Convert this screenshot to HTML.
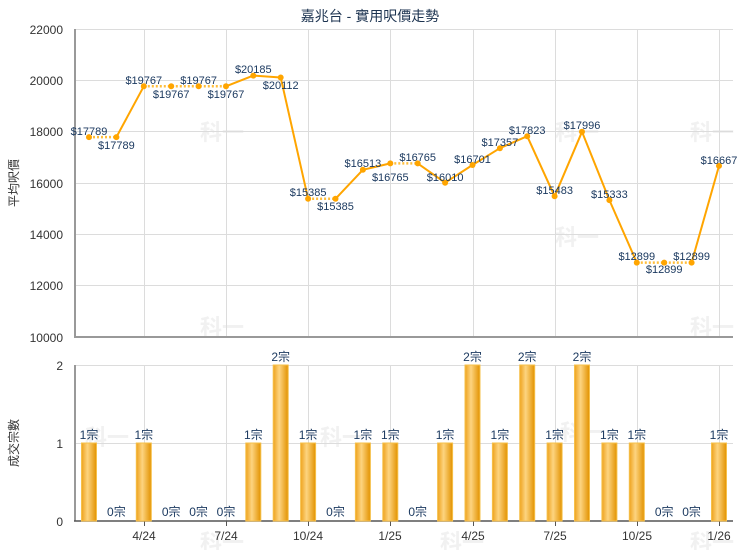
<!DOCTYPE html>
<html><head><meta charset="utf-8"><style>
body{margin:0;background:#fff;}
svg{display:block;font-family:"Liberation Sans","Noto Sans CJK TC",sans-serif;}
</style></head><body>
<svg width="740" height="550" viewBox="0 0 740 550">
<defs>
<linearGradient id="bg" x1="0" x2="1" y1="0" y2="0">
<stop offset="0" stop-color="#eea21c"/><stop offset="0.4" stop-color="#fdd480"/><stop offset="1" stop-color="#e29200"/>
</linearGradient>
</defs>
<text x="370" y="21" text-anchor="middle" font-size="14" fill="#1c3350">嘉兆台 - 實用呎價走勢</text>
<!-- watermarks -->
<g font-size="22" font-weight="bold" fill="#f1f1f1">
<text x="200" y="140">科一</text><text x="555" y="140">科一</text><text x="690" y="140">科一</text>
<text x="200" y="335">科一</text><text x="555" y="245">科一</text><text x="690" y="335">科一</text>
<text x="85" y="445">科一</text><text x="320" y="445">科一</text><text x="560" y="440">科一</text>
<text x="200" y="550">科一</text><text x="440" y="550">科一</text><text x="690" y="550">科一</text>
</g>
<!-- grids top -->
<g stroke="#dcdcdc" stroke-width="1">
<line x1="75" x2="733" y1="29.5" y2="29.5"/><line x1="75" x2="733" y1="80.5" y2="80.5"/>
<line x1="75" x2="733" y1="131.5" y2="131.5"/><line x1="75" x2="733" y1="183.5" y2="183.5"/>
<line x1="75" x2="733" y1="234.5" y2="234.5"/><line x1="75" x2="733" y1="285.5" y2="285.5"/>
<line x1="75" x2="733" y1="365.5" y2="365.5"/><line x1="75" x2="733" y1="443.5" y2="443.5"/>
<g>
<line x1="144.5" x2="144.5" y1="29" y2="337"/><line x1="226.5" x2="226.5" y1="29" y2="337"/>
<line x1="308.5" x2="308.5" y1="29" y2="337"/><line x1="390.5" x2="390.5" y1="29" y2="337"/>
<line x1="473.5" x2="473.5" y1="29" y2="337"/><line x1="555.5" x2="555.5" y1="29" y2="337"/>
<line x1="637.5" x2="637.5" y1="29" y2="337"/><line x1="719.5" x2="719.5" y1="29" y2="337"/>
<line x1="144.5" x2="144.5" y1="365" y2="521"/><line x1="226.5" x2="226.5" y1="365" y2="521"/>
<line x1="308.5" x2="308.5" y1="365" y2="521"/><line x1="390.5" x2="390.5" y1="365" y2="521"/>
<line x1="473.5" x2="473.5" y1="365" y2="521"/><line x1="555.5" x2="555.5" y1="365" y2="521"/>
<line x1="637.5" x2="637.5" y1="365" y2="521"/><line x1="719.5" x2="719.5" y1="365" y2="521"/>
</g></g>
<!-- axes -->
<g stroke="#999" stroke-width="2">
<line x1="75" x2="75" y1="29" y2="338"/><line x1="74" x2="733" y1="337" y2="337"/>
<line x1="75" x2="75" y1="365" y2="521"/>
</g>
<line x1="74" x2="733" y1="521" y2="521" stroke="#555" stroke-width="1.5"/>
<g stroke="#555"><line x1="144.5" x2="144.5" y1="521" y2="526"/><line x1="226.5" x2="226.5" y1="521" y2="526"/><line x1="308.5" x2="308.5" y1="521" y2="526"/><line x1="390.5" x2="390.5" y1="521" y2="526"/><line x1="473.5" x2="473.5" y1="521" y2="526"/><line x1="555.5" x2="555.5" y1="521" y2="526"/><line x1="637.5" x2="637.5" y1="521" y2="526"/><line x1="719.5" x2="719.5" y1="521" y2="526"/></g>
<!-- y labels -->
<g font-size="12" fill="#333" text-anchor="end">
<text x="63" y="34">22000</text><text x="63" y="85">20000</text><text x="63" y="136">18000</text>
<text x="63" y="188">16000</text><text x="63" y="239">14000</text><text x="63" y="290">12000</text>
<text x="63" y="342">10000</text>
<text x="63" y="370">2</text><text x="63" y="448">1</text><text x="63" y="526">0</text>
</g>
<text transform="translate(18,183) rotate(-90)" text-anchor="middle" font-size="12" fill="#333">平均呎價</text>
<text transform="translate(18,443) rotate(-90)" text-anchor="middle" font-size="12" fill="#333">成交宗數</text>
<g font-size="12" fill="#333" text-anchor="middle">
<text x="144" y="540">4/24</text><text x="226" y="540">7/24</text><text x="308" y="540">10/24</text><text x="390" y="540">1/25</text>
<text x="473" y="540">4/25</text><text x="555" y="540">7/25</text><text x="637" y="540">10/25</text><text x="719" y="540">1/26</text>
</g>
<!-- bars -->
<g fill="url(#bg)" stroke="#f6c04a" stroke-width="1">
<rect x="81.5" y="443" width="15" height="78"/>
<rect x="136.3" y="443" width="15" height="78"/>
<rect x="245.8" y="443" width="15" height="78"/>
<rect x="273.2" y="365" width="15" height="156"/>
<rect x="300.6" y="443" width="15" height="78"/>
<rect x="355.4" y="443" width="15" height="78"/>
<rect x="382.8" y="443" width="15" height="78"/>
<rect x="437.6" y="443" width="15" height="78"/>
<rect x="465" y="365" width="15" height="156"/>
<rect x="492.4" y="443" width="15" height="78"/>
<rect x="519.7" y="365" width="15" height="156"/>
<rect x="547.1" y="443" width="15" height="78"/>
<rect x="574.5" y="365" width="15" height="156"/>
<rect x="601.9" y="443" width="15" height="78"/>
<rect x="629.3" y="443" width="15" height="78"/>
<rect x="711.5" y="443" width="15" height="78"/>
</g>
<g font-size="12" fill="#1c3a60" text-anchor="middle">
<text x="89" y="439">1宗</text><text x="116.4" y="516">0宗</text><text x="143.8" y="439">1宗</text>
<text x="171.2" y="516">0宗</text><text x="198.6" y="516">0宗</text><text x="226" y="516">0宗</text>
<text x="253.3" y="439">1宗</text><text x="280.7" y="361">2宗</text><text x="308.1" y="439">1宗</text>
<text x="335.5" y="516">0宗</text><text x="362.9" y="439">1宗</text><text x="390.3" y="439">1宗</text>
<text x="417.7" y="516">0宗</text><text x="445.1" y="439">1宗</text><text x="472.5" y="361">2宗</text>
<text x="499.9" y="439">1宗</text><text x="527.2" y="361">2宗</text><text x="554.6" y="439">1宗</text>
<text x="582" y="361">2宗</text><text x="609.4" y="439">1宗</text><text x="636.8" y="439">1宗</text>
<text x="664.2" y="516">0宗</text><text x="691.6" y="516">0宗</text><text x="719" y="439">1宗</text>
</g>
<!-- line -->
<g stroke="#ffa500" stroke-width="2" fill="none" stroke-linejoin="round">
<polyline points="116.4,137.1 143.8,86.3"/>
<polyline points="226,86.3 253.3,75.6 280.7,77.5 308.1,198.8"/>
<polyline points="335.5,198.8 362.9,169.8 390.3,163.4"/>
<polyline points="417.7,163.4 445.1,182.7 472.5,165 499.9,148.2 527.2,136.2 554.6,196.3 582,131.8 609.4,200.1 636.8,262.6"/>
<polyline points="691.6,262.6 719,165.9"/>
</g>
<g stroke="#ffbe3c" stroke-width="2.5" fill="none" stroke-dasharray="2,2">
<line x1="89" y1="137.1" x2="116.4" y2="137.1"/>
<line x1="143.8" y1="86.3" x2="226" y2="86.3"/>
<line x1="308.1" y1="198.8" x2="335.5" y2="198.8"/>
<line x1="390.3" y1="163.4" x2="417.7" y2="163.4"/>
<line x1="636.8" y1="262.6" x2="691.6" y2="262.6"/>
</g>
<g fill="#ffa500">
<circle cx="89" cy="137.1" r="3"/><circle cx="116.4" cy="137.1" r="3"/><circle cx="143.8" cy="86.3" r="3"/>
<circle cx="171.2" cy="86.3" r="3"/><circle cx="198.6" cy="86.3" r="3"/><circle cx="226" cy="86.3" r="3"/>
<circle cx="253.3" cy="75.6" r="3"/><circle cx="280.7" cy="77.5" r="3"/><circle cx="308.1" cy="198.8" r="3"/>
<circle cx="335.5" cy="198.8" r="3"/><circle cx="362.9" cy="169.8" r="3"/><circle cx="390.3" cy="163.4" r="3"/>
<circle cx="417.7" cy="163.4" r="3"/><circle cx="445.1" cy="182.7" r="3"/><circle cx="472.5" cy="165" r="3"/>
<circle cx="499.9" cy="148.2" r="3"/><circle cx="527.2" cy="136.2" r="3"/><circle cx="554.6" cy="196.3" r="3"/>
<circle cx="582" cy="131.8" r="3"/><circle cx="609.4" cy="200.1" r="3"/><circle cx="636.8" cy="262.6" r="3"/>
<circle cx="664.2" cy="262.6" r="3"/><circle cx="691.6" cy="262.6" r="3"/><circle cx="719" cy="165.9" r="3"/>
</g>
<g font-size="11" fill="#1c3a60" text-anchor="middle">
<text x="89" y="135">$17789</text><text x="116.4" y="149">$17789</text>
<text x="143.8" y="84">$19767</text><text x="171.2" y="98">$19767</text>
<text x="198.6" y="84">$19767</text><text x="226" y="98">$19767</text>
<text x="253.3" y="73">$20185</text><text x="280.7" y="89">$20112</text>
<text x="308.1" y="196">$15385</text><text x="335.5" y="210">$15385</text>
<text x="362.9" y="167">$16513</text><text x="390.3" y="181">$16765</text>
<text x="417.7" y="161">$16765</text><text x="445.1" y="181">$16010</text>
<text x="472.5" y="163">$16701</text><text x="499.9" y="146">$17357</text>
<text x="527.2" y="134">$17823</text><text x="554.6" y="194">$15483</text>
<text x="582" y="129">$17996</text><text x="609.4" y="198">$15333</text>
<text x="636.8" y="260">$12899</text><text x="664.2" y="273">$12899</text>
<text x="691.6" y="260">$12899</text><text x="719" y="164">$16667</text>
</g>
</svg>
</body></html>
